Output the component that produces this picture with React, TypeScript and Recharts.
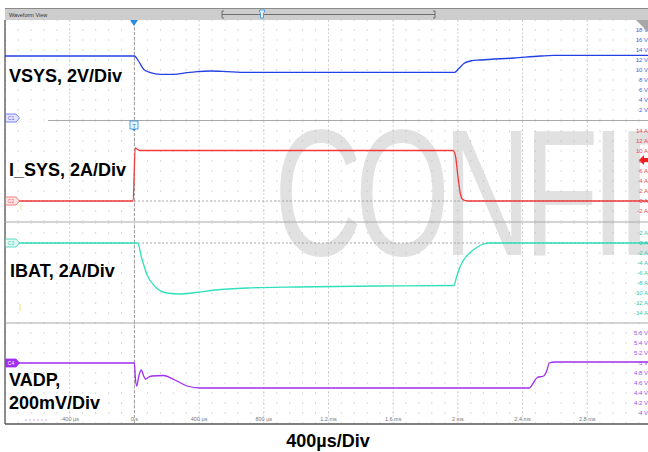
import React from 'react';
import {
  LineChart,
  Line,
  XAxis,
  YAxis,
  CartesianGrid,
  ReferenceLine,
} from 'recharts';

// time axis, µs
const xTicks = [-400, 0, 400, 800, 1200, 1600, 2000, 2400, 2800];
const xTickLabels = ['-400 µs', '0 s', '400 µs', '800 µs', '1.2 ms', '1.6 ms', '2 ms', '2.4 ms', '2.8 ms'];

// per-channel tick values
const vsysTicks = [2, 4, 6, 8, 10, 12, 14, 16, 18];
const isysTicks = [-2, 0, 2, 4, 6, 8, 10, 12, 14];
const ibatTicks = [-14, -12, -10, -8, -6, -4, -2, 0, 2];
const vadpTicks = [4, 4.2, 4.4, 4.6, 4.8, 5, 5.2, 5.4, 5.6];

// traces
const vsysTime = [-800, 0, 27, 58, 99, 161, 243, 326, 388, 470, 573, 656, 800, 1980, 2006, 2037, 2078, 2140, 2346, 2511, 2594, 3200];
const vsysVolts = [12.8, 12.8, 11.7, 10.1, 9.47, 9.13, 9.13, 9.47, 9.67, 9.8, 9.67, 9.53, 9.53, 9.53, 10.3, 11.3, 11.8, 12.0, 12.4, 12.8, 12.93, 12.93];

const isysTime = [-800, -8, 5, 15, 30, 1970, 1985, 2000, 2015, 2030, 2060, 3200];
const isysAmps = [0, 0, 10.6, 10.4, 10.1, 10.1, 9, 5, 1.5, 0.3, 0, 0];

const ibatTime = [-800, 20, 45, 80, 130, 200, 280, 380, 500, 700, 1000, 1500, 1975, 1990, 2010, 2040, 2080, 2120, 2160, 2190, 3200];
const ibatAmps = [0, 0, -3, -6.5, -8.8, -10.0, -10.2, -9.9, -9.4, -9.0, -8.8, -8.6, -8.5, -7.0, -5.0, -3.2, -1.8, -0.8, -0.2, 0, 0];

const vadpTime = [-800, 0, 6, 14, 28, 43, 56, 68, 90, 109, 180, 250, 326, 408, 2440, 2470, 2490, 2530, 2550, 2565, 2600, 3200];
const vadpVolts = [5.0, 5.0, 4.7, 4.54, 4.75, 4.86, 4.75, 4.68, 4.72, 4.74, 4.75, 4.66, 4.54, 4.5, 4.5, 4.62, 4.71, 4.74, 4.85, 5.0, 5.02, 5.02];

const toData = (ts: number[], vs: number[]) => ts.map((t, i) => ({ t, v: vs[i] }));

const FONT = '"Liberation Sans", Arial, sans-serif';

interface PanelProps {
  top: number;
  data: { t: number; v: number }[];
  color: string;
  tickColor: string;
  domain: [number, number];
  ticks: number[];
  unit: string;
  zeroLine?: boolean;
  showTime?: boolean;
}

const Panel = ({ top, data, color, tickColor, domain, ticks, unit, zeroLine, showTime }: PanelProps) => {
  const YTick = ({ x, y, payload }: any) => (
    <text x={x - 4} y={y} dy={2} textAnchor="end" fontSize={6} fill={tickColor} fontFamily={FONT}>
      {`${Number(payload.value.toFixed(1))} ${unit}`}
    </text>
  );
  const XTick = ({ x, y, payload }: any) => (
    <text x={x} y={y} dy={0} textAnchor="middle" fontSize={5.5} fill="#777" fontFamily={FONT}>
      {xTickLabels[xTicks.indexOf(payload.value)]}
    </text>
  );
  return (
    <div style={{ position: 'absolute', left: 5, top, width: 647, height: 100 }}>
      <LineChart width={647} height={100} data={data} margin={{ top: 0, right: 0, bottom: 0, left: 0 }}>
        <CartesianGrid horizontal={false} stroke="#d6d6d6" strokeDasharray="2 2" />
        <CartesianGrid vertical={false} stroke="#b4b4b4" strokeDasharray="1 11.93" strokeDashoffset={0.3} />
        <XAxis
          type="number"
          dataKey="t"
          domain={[-800, 3200]}
          ticks={xTicks}
          interval={0}
          allowDataOverflow
          hide={!showTime}
          mirror
          axisLine={false}
          tickLine={false}
          tickSize={0}
          tick={<XTick />}
        />
        <YAxis
          orientation="right"
          mirror
          domain={domain}
          ticks={ticks}
          interval={0}
          allowDataOverflow
          axisLine={false}
          tickLine={false}
          tickSize={0}
          tickMargin={0}
          tick={<YTick />}
        />
        <ReferenceLine x={0} stroke="#9c9c9c" strokeDasharray="3 2" />
        {zeroLine && <ReferenceLine y={0} stroke="#a8a8a8" strokeDasharray="2 2" />}
        <Line
          type="monotone"
          dataKey="v"
          stroke={color}
          strokeWidth={1.3}
          dot={false}
          isAnimationActive={false}
        />
      </LineChart>
    </div>
  );
};

const Tag = ({ y, label, stroke, fill, text }: any) => (
  <g>
    <path d={`M5.5 ${y - 4} H16 L19.5 ${y} L16 ${y + 4} H5.5 Z`} fill={fill} stroke={stroke} strokeWidth={0.8} />
    <text x={11} y={y + 2} textAnchor="middle" fontSize={5} fill={text} fontFamily={FONT}>
      {label}
    </text>
  </g>
);

const labelStyle = { fontFamily: FONT, fontWeight: 700, fontSize: 18, fill: '#000' };

export default function App() {
  return (
    <div
      style={{
        position: 'absolute',
        left: 0,
        top: 0,
        width: 648,
        height: 452,
        overflow: 'hidden',
        background: '#fff',
        fontFamily: FONT,
      }}
    >
      {/* watermark behind the traces */}
      <svg width={648} height={452} style={{ position: 'absolute', left: 0, top: 0 }}>
        <text
          transform="translate(274,255) scale(1,1.48)"
          fontSize={122}
          letterSpacing={-7}
          fill="#e1e1e1"
          fontFamily={FONT}
        >
          CONFIDENTIAL
        </text>
      </svg>

      <Panel top={20} data={toData(vsysTime, vsysVolts)} color="#2340e6" tickColor="#4a5ee8" domain={[0, 20]} ticks={vsysTicks} unit="V" />
      <Panel top={121} data={toData(isysTime, isysAmps)} color="#f23a3a" tickColor="#f04848" domain={[-4, 16]} ticks={isysTicks} unit="A" zeroLine />
      <Panel top={223} data={toData(ibatTime, ibatAmps)} color="#2fe0bb" tickColor="#3cc8a8" domain={[-16, 4]} ticks={ibatTicks} unit="A" zeroLine />
      <Panel top={323} data={toData(vadpTime, vadpVolts)} color="#a22ef0" tickColor="#a848f0" domain={[3.8, 5.8]} ticks={vadpTicks} unit="V" showTime />

      {/* scope chrome and labels */}
      <svg width={648} height={452} style={{ position: 'absolute', left: 0, top: 0, pointerEvents: 'none' }}>
        <rect x={5} y={8} width={643} height={12} fill="#cdcdcd" />
        <line x1={5} y1={8.5} x2={648} y2={8.5} stroke="#8a8a8a" />
        <text x={9} y={16.5} fontSize={5.5} fill="#333" fontFamily={FONT}>Waveform View</text>
        <path d="M224 11 H222 V18 H224 M222 14.5 H435 M433 11 H435 V18 H433" stroke="#555" fill="none" strokeWidth={0.8} />
        <path d="M259.5 10 H264.5 V12 L263.5 13 V18 H260.5 V13 L259.5 12 Z" fill="#eaf4ff" stroke="#2a8de0" strokeWidth={0.8} />

        <polygon points="130,20 138,20 134,26" fill="#2a8de0" />
        <polygon points="636,20 648,20 648,32" fill="#a6a6a6" />

        <line x1={5} y1={20} x2={5} y2={424} stroke="#222" />
        <line x1={5} y1={424} x2={648} y2={424} stroke="#555" strokeWidth={1.5} />
        <line x1={48} y1={120.5} x2={648} y2={120.5} stroke="#a8a8a8" />
        <line x1={5} y1={222} x2={648} y2={222} stroke="#a8a8a8" />
        <line x1={5} y1={323} x2={648} y2={323} stroke="#a8a8a8" />

        <Tag y={118} label="C1" stroke="#5868e8" fill="#e4e6ff" text="#5868e8" />
        <Tag y={201} label="C2" stroke="#f06060" fill="#ffe4e4" text="#f06060" />
        <Tag y={243} label="C3" stroke="#36d2b2" fill="#e2fbf5" text="#36d2b2" />
        <Tag y={363} label="C4" stroke="#a22ef0" fill="#a22ef0" text="#fff" />

        <rect x={130} y={121} width={8} height={8} fill="#eaf4ff" stroke="#2a8de0" strokeWidth={0.8} />
        <text x={134} y={127.5} textAnchor="middle" fontSize={6} fill="#2a8de0" fontFamily={FONT}>T</text>
        <polygon points="132,129 136,129 134,131" fill="#2a8de0" />

        <polygon points="639,160 644,155 644,158 648,158 648,162 644,162 644,165" fill="#f02020" />

        <line x1={21} y1={204} x2={21} y2={210} stroke="#f2e27a" />
        <line x1={20} y1={304} x2={20} y2={311} stroke="#f2e27a" />
        <line x1={25} y1={420} x2={47} y2={420} stroke="#c9a6f2" strokeDasharray="2 2" />

        <text x={9} y={82} style={labelStyle}>VSYS, 2V/Div</text>
        <text x={9} y={176} style={labelStyle}>I_SYS, 2A/Div</text>
        <text x={10} y={277} style={labelStyle}>IBAT, 2A/Div</text>
        <text x={9} y={386} style={labelStyle}>VADP,</text>
        <text x={9} y={409} style={labelStyle}>200mV/Div</text>
        <text x={328} y={447} textAnchor="middle" style={labelStyle}>400µs/Div</text>
      </svg>
    </div>
  );
}
